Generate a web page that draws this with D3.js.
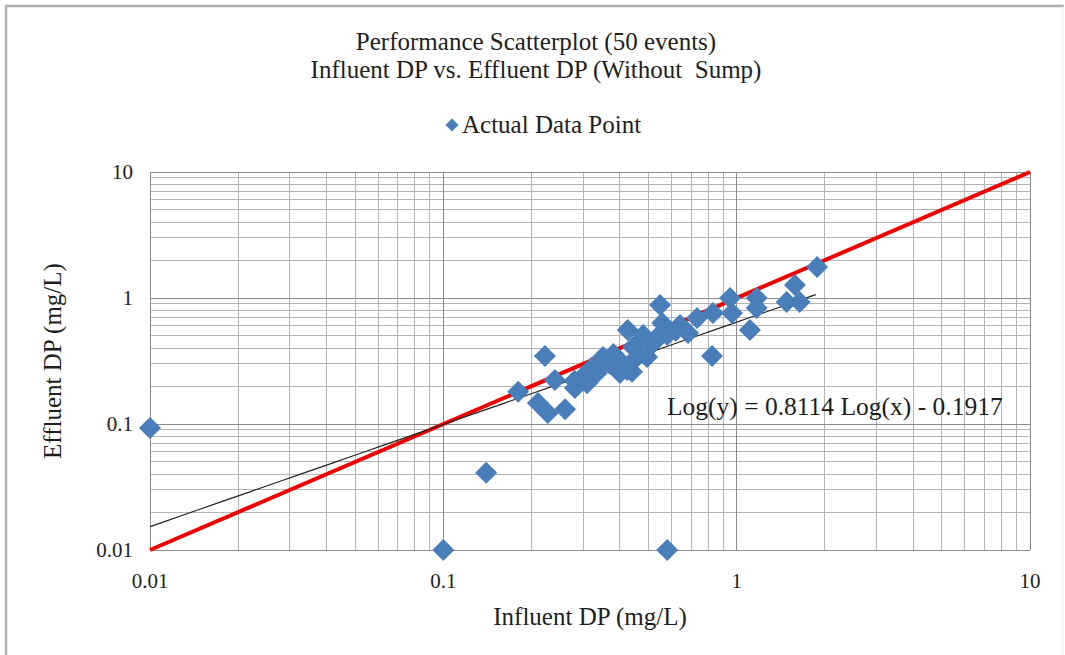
<!DOCTYPE html>
<html>
<head>
<meta charset="utf-8">
<script src="https://cdn.jsdelivr.net/npm/d3@7"></script>
<style>
  body { margin: 0; background: #fff; }
  text { font-family: "Liberation Serif", "Times New Roman", serif; fill: #1e1e1e; white-space: pre; }
</style>
</head>
<body>
<svg id="chart" width="1065" height="655"></svg>
<script>
// influent / effluent DP (mg/L)
const influent = [0.01, 0.1, 0.14, 0.58,
  0.18, 0.222, 0.24, 0.21, 0.227, 0.26, 0.281, 0.309, 0.334, 0.35,
  0.37, 0.40, 0.423, 0.425, 0.443, 0.457, 0.48, 0.495, 0.548, 0.557,
  0.579, 0.641, 0.683, 0.733, 0.824, 0.83, 0.949, 0.964, 1.11, 1.17,
  1.17, 1.48, 1.58, 1.64, 1.88,
  0.30, 0.32, 0.36, 0.38, 0.41, 0.44, 0.47, 0.52, 0.62, 0.55, 0.28];
const effluent = [0.093, 0.01, 0.041, 0.01,
  0.18, 0.347, 0.223, 0.147, 0.122, 0.131, 0.193, 0.211, 0.254, 0.34,
  0.30, 0.254, 0.268, 0.557, 0.408, 0.34, 0.508, 0.34, 0.879, 0.634,
  0.508, 0.611, 0.527, 0.693, 0.347, 0.76, 1.0, 0.76, 0.557, 1.0,
  0.834, 0.929, 1.27, 0.929, 1.76,
  0.24, 0.28, 0.31, 0.36, 0.30, 0.26, 0.45, 0.44, 0.55, 0.52, 0.22];
const tickValues = [0.01, 0.1, 1, 10];
const tickLabels = ["0.01", "0.1", "1", "10"];
const trendSlope = 0.8114, trendIntercept = -0.1917;
const trendRange = [0.01, 1.86];

const svg = d3.select('#chart');
const pl = 150, pr = 1030, pt = 172, pb = 550;

const x = d3.scaleLog().domain([0.01, 10]).range([pl, pr]);
const y = d3.scaleLog().domain([0.01, 10]).range([pb, pt]);

// outer frame
svg.append('path')
  .attr('d', `M6,660 V6 H1064`)
  .attr('fill', 'none').attr('stroke', '#b0b0b0').attr('stroke-width', 2.5);
svg.append('line').attr('x1', 1063).attr('x2', 1063).attr('y1', 6).attr('y2', 655)
  .attr('stroke', '#ececec').attr('stroke-width', 1);

// grid: every 1..9 within each decade
const gridVals = [];
[0.01, 0.1, 1].forEach(d => { for (let k = 1; k < 10; k++) gridVals.push(d * k); });
gridVals.push(10);

svg.append('g').selectAll('line').data(gridVals).join('line')
  .attr('x1', d => x(d)).attr('x2', d => x(d))
  .attr('y1', pt).attr('y2', pb)
  .attr('stroke', '#b4b4b4').attr('stroke-width', 1).attr('shape-rendering', 'crispEdges');
svg.append('g').selectAll('line').data(gridVals).join('line')
  .attr('y1', d => y(d)).attr('y2', d => y(d))
  .attr('x1', pl).attr('x2', pr)
  .attr('stroke', '#b4b4b4').attr('stroke-width', 1).attr('shape-rendering', 'crispEdges');

// major grid a bit darker
svg.append('g').selectAll('line').data(tickValues).join('line')
  .attr('x1', d => x(d)).attr('x2', d => x(d))
  .attr('y1', pt).attr('y2', pb)
  .attr('stroke', '#8c8c8c').attr('stroke-width', 1).attr('shape-rendering', 'crispEdges');
svg.append('g').selectAll('line').data(tickValues).join('line')
  .attr('y1', d => y(d)).attr('y2', d => y(d))
  .attr('x1', pl).attr('x2', pr)
  .attr('stroke', '#8c8c8c').attr('stroke-width', 1).attr('shape-rendering', 'crispEdges');

// tick labels
svg.append('g').selectAll('text').data(tickValues).join('text')
  .attr('x', d => x(d)).attr('y', 588)
  .attr('text-anchor', 'middle').style('font-size', '21px')
  .text((d, i) => tickLabels[i]);
svg.append('g').selectAll('text').data(tickValues).join('text')
  .attr('x', 133).attr('y', d => y(d) + 7)
  .attr('text-anchor', 'end').style('font-size', '21px')
  .text((d, i) => tickLabels[i]);

// 1:1 line
svg.append('line')
  .attr('x1', x(0.01)).attr('y1', y(0.01))
  .attr('x2', x(10)).attr('y2', y(10))
  .attr('stroke', '#ee0000').attr('stroke-width', 4);

// fitted power line
const trend = d3.range(0, 41).map(i => {
  const lx = Math.log10(trendRange[0]) + i / 40 * (Math.log10(trendRange[1]) - Math.log10(trendRange[0]));
  return [Math.pow(10, lx), Math.pow(10, trendSlope * lx + trendIntercept)];
});
svg.append('path').datum(trend)
  .attr('d', d3.line().x(d => x(d[0])).y(d => y(d[1])))
  .attr('fill', 'none').attr('stroke', '#222').attr('stroke-width', 1.2);

// points
const diamond = d3.symbol().type(d3.symbolSquare).size(2 * 11 * 11);
svg.append('g').selectAll('path').data(influent).join('path')
  .attr('d', diamond)
  .attr('transform', (d, i) => `translate(${x(d)},${y(effluent[i])}) rotate(45)`)
  .attr('fill', '#4a7ebb');

// titles
svg.append('text').attr('x', 536).attr('y', 50).attr('text-anchor', 'middle')
  .style('font-size', '25px').text('Performance Scatterplot (50 events)');
svg.append('text').attr('x', 536).attr('y', 78).attr('text-anchor', 'middle')
  .style('font-size', '25px').text('Influent DP vs. Effluent DP (Without  Sump)');

// legend
svg.append('path').attr('d', d3.symbol().type(d3.symbolSquare).size(2 * 6.5 * 6.5))
  .attr('transform', 'translate(452,125) rotate(45)').attr('fill', '#4a7ebb');
svg.append('text').attr('x', 462).attr('y', 133).style('font-size', '25px').text('Actual Data Point');

// equation
svg.append('text').attr('x', 667).attr('y', 415).style('font-size', '25.5px')
  .text('Log(y) = 0.8114 Log(x) - 0.1917');

// axis titles
svg.append('text').attr('x', 590).attr('y', 625).attr('text-anchor', 'middle')
  .style('font-size', '25px').text('Influent DP (mg/L)');
svg.append('text').attr('transform', 'translate(61,361) rotate(-90)').attr('text-anchor', 'middle')
  .style('font-size', '25px').text('Effluent DP (mg/L)');
</script>
</body>
</html>
